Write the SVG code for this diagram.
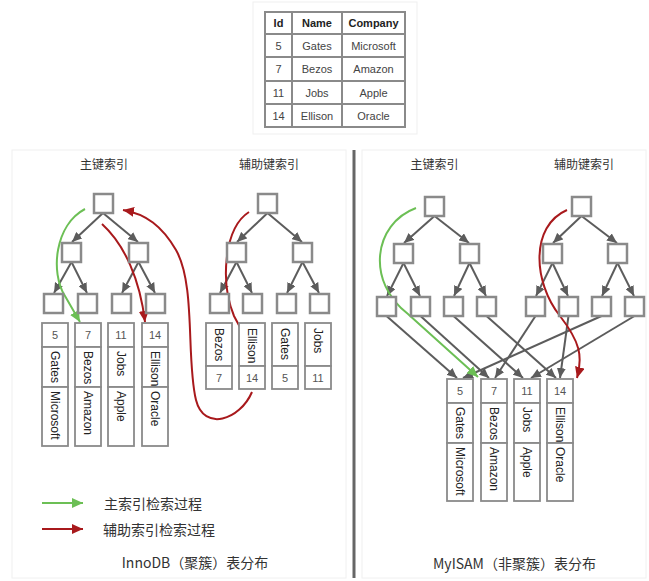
<svg xmlns="http://www.w3.org/2000/svg" width="649" height="581" viewBox="0 0 649 581">
<defs>
<style>
text{font-family:"Liberation Sans","Noto Sans CJK SC",sans-serif;fill:#333}
.cjk{font-family:"Noto Sans CJK SC","Liberation Sans",sans-serif}
.t{font-size:11px;text-anchor:middle;dominant-baseline:central;fill:#444}
.th{font-size:11px;font-weight:bold;text-anchor:middle;dominant-baseline:central;fill:#222}
.tl{stroke:#8a8a8a;stroke-width:2;fill:none}
.box{fill:#fff;stroke:#8a8a8a;stroke-width:2.5}
.col{fill:#fff;stroke:#8a8a8a;stroke-width:1.8}
.id{font-size:11px;text-anchor:middle;dominant-baseline:central;fill:#555}
.nm{font-size:12px;dominant-baseline:central;fill:#222}
.e{stroke:#5c5c5c;stroke-width:2;fill:none;marker-end:url(#ag)}
.g{stroke:#6cbf55;stroke-width:2;fill:none;marker-end:url(#agr)}
.r{stroke:#a8191c;stroke-width:2;fill:none;marker-end:url(#ar)}
.title{font-size:12px;text-anchor:middle;dominant-baseline:central;fill:#333}
.leg{font-size:14px;dominant-baseline:central;fill:#333}
.cap{font-size:14px;text-anchor:middle;dominant-baseline:central;fill:#333}
</style>
<marker id="ag" markerUnits="userSpaceOnUse" markerWidth="10" markerHeight="9" refX="10" refY="4.5" orient="auto"><path d="M0,0 L10,4.5 L0,9 z" fill="#5c5c5c"/></marker>
<marker id="agr" markerUnits="userSpaceOnUse" markerWidth="11" markerHeight="10" refX="11" refY="5" orient="auto"><path d="M0,0 L11,5 L0,10 z" fill="#6cbf55"/></marker>
<marker id="ar" markerUnits="userSpaceOnUse" markerWidth="11" markerHeight="10" refX="11" refY="5" orient="auto"><path d="M0,0 L11,5 L0,10 z" fill="#a8191c"/></marker>
</defs>
<rect width="649" height="581" fill="#fff"/>

<!-- panels -->
<g id="panels">
<rect x="12" y="150" width="334" height="428" fill="none" stroke="#f0f0f0" stroke-width="1"/>
<rect x="362" y="150" width="284" height="428" fill="none" stroke="#f0f0f0" stroke-width="1"/>
<line x1="354" y1="150" x2="354" y2="578" stroke="#666" stroke-width="3"/>
</g>

<!-- table -->
<g id="table">
<rect x="253" y="2" width="164" height="132" fill="#fff" stroke="#efefef"/>
<rect x="265" y="12" width="140" height="115" class="tl"/>
<line x1="292" y1="12" x2="292" y2="127" class="tl"/>
<line x1="342" y1="12" x2="342" y2="127" class="tl"/>
<line x1="265" y1="34" x2="405" y2="34" class="tl"/>
<line x1="265" y1="57" x2="405" y2="57" class="tl"/>
<line x1="265" y1="81" x2="405" y2="81" class="tl"/>
<line x1="265" y1="104" x2="405" y2="104" class="tl"/>
<text class="th" x="278.5" y="23">Id</text><text class="th" x="317" y="23">Name</text><text class="th" x="373.5" y="23">Company</text>
<text class="t" x="278.5" y="45.5">5</text><text class="t" x="317" y="45.5">Gates</text><text class="t" x="373.5" y="45.5">Microsoft</text>
<text class="t" x="278.5" y="69">7</text><text class="t" x="317" y="69">Bezos</text><text class="t" x="373.5" y="69">Amazon</text>
<text class="t" x="278.5" y="92.5">11</text><text class="t" x="317" y="92.5">Jobs</text><text class="t" x="373.5" y="92.5">Apple</text>
<text class="t" x="278.5" y="115.5">14</text><text class="t" x="317" y="115.5">Ellison</text><text class="t" x="373.5" y="115.5">Oracle</text>
</g>

<!-- titles -->
<g id="titles">
<text class="title cjk" x="104" y="163">主键索引</text>
<text class="title cjk" x="269" y="163">辅助键索引</text>
<text class="title cjk" x="434.5" y="163">主键索引</text>
<text class="title cjk" x="584" y="163">辅助键索引</text>
</g>

<!-- connectors -->
<g id="connectors">
<!-- left primary tree -->
<line class="e" x1="103" y1="213" x2="72" y2="242"/>
<line class="e" x1="103" y1="213" x2="138" y2="242"/>
<line class="e" x1="71.5" y1="262" x2="54" y2="293"/>
<line class="e" x1="71.5" y1="262" x2="87" y2="293"/>
<line class="e" x1="138.5" y1="262" x2="122" y2="293"/>
<line class="e" x1="138.5" y1="262" x2="155" y2="293"/>
<!-- left secondary tree -->
<line class="e" x1="267.5" y1="213" x2="237" y2="242"/>
<line class="e" x1="267.5" y1="213" x2="302" y2="242"/>
<line class="e" x1="236.5" y1="262" x2="220" y2="293"/>
<line class="e" x1="236.5" y1="262" x2="252" y2="293"/>
<line class="e" x1="302.5" y1="262" x2="287" y2="293"/>
<line class="e" x1="302.5" y1="262" x2="319" y2="293"/>
<!-- right primary tree -->
<line class="e" x1="434.5" y1="216" x2="404" y2="243"/>
<line class="e" x1="434.5" y1="216" x2="469" y2="243"/>
<line class="e" x1="403.5" y1="263" x2="387" y2="296"/>
<line class="e" x1="403.5" y1="263" x2="420" y2="296"/>
<line class="e" x1="469.5" y1="263" x2="454" y2="296"/>
<line class="e" x1="469.5" y1="263" x2="486" y2="296"/>
<!-- right secondary tree -->
<line class="e" x1="581.5" y1="216" x2="553" y2="243"/>
<line class="e" x1="581.5" y1="216" x2="617" y2="243"/>
<line class="e" x1="552.5" y1="263" x2="536" y2="296"/>
<line class="e" x1="552.5" y1="263" x2="568" y2="296"/>
<line class="e" x1="617.5" y1="263" x2="602" y2="296"/>
<line class="e" x1="617.5" y1="263" x2="634" y2="296"/>
<!-- leaf to rows (MyISAM) -->
<line class="e" x1="386.5" y1="316" x2="457" y2="378"/>
<line class="e" x1="420.5" y1="316" x2="489" y2="378"/>
<line class="e" x1="453.5" y1="316" x2="523" y2="378"/>
<line class="e" x1="486.5" y1="316" x2="556" y2="378"/>
<line class="e" x1="535.5" y1="316" x2="495" y2="378"/>
<line class="e" x1="568.5" y1="316" x2="560" y2="378"/>
<line class="e" x1="601.5" y1="316" x2="463" y2="378"/>
<line class="e" x1="634.5" y1="316" x2="531" y2="378"/>
<!-- search paths -->
<path class="g" d="M85,209 C55,225 50,272 65,296 L80,322"/>
<path class="r" d="M102,224 C125,245 140,280 145,322"/>
<path class="r" d="M249,212 C224,228 220,282 234,316 L248,342"/>
<path class="r" d="M252,392 C240,420 204,432 196,400 C186,360 196,285 176,250 C162,226 146,214 123,210"/>
<path class="g" d="M416,208 C373,224 366,282 408,314 L478,377"/>
<path class="r" d="M567,210 C530,226 533,282 560,316 C580,342 583,356 577,378"/>
<!-- legend -->
<line class="g" x1="42" y1="503" x2="83" y2="503"/>
<line class="r" x1="42" y1="529" x2="83" y2="529"/>
</g>

<!-- tree nodes -->
<g id="innodb-primary">
<rect class="box" x="94" y="194" width="19" height="19"/>
<rect class="box" x="62" y="243" width="19" height="19"/>
<rect class="box" x="129" y="243" width="19" height="19"/>
<rect class="box" x="44" y="294" width="19" height="19"/>
<rect class="box" x="78" y="294" width="19" height="19"/>
<rect class="box" x="112" y="294" width="19" height="19"/>
<rect class="box" x="146" y="294" width="19" height="19"/>
</g>
<g id="innodb-secondary">
<rect class="box" x="258" y="194" width="19" height="19"/>
<rect class="box" x="227" y="243" width="19" height="19"/>
<rect class="box" x="293" y="243" width="19" height="19"/>
<rect class="box" x="210" y="294" width="19" height="19"/>
<rect class="box" x="243" y="294" width="19" height="19"/>
<rect class="box" x="277" y="294" width="19" height="19"/>
<rect class="box" x="310" y="294" width="19" height="19"/>
</g>
<g id="myisam-primary">
<rect class="box" x="425" y="197" width="19" height="19"/>
<rect class="box" x="394" y="244" width="19" height="19"/>
<rect class="box" x="460" y="244" width="19" height="19"/>
<rect class="box" x="377" y="297" width="19" height="19"/>
<rect class="box" x="411" y="297" width="19" height="19"/>
<rect class="box" x="444" y="297" width="19" height="19"/>
<rect class="box" x="477" y="297" width="19" height="19"/>
</g>
<g id="myisam-secondary">
<rect class="box" x="572" y="197" width="19" height="19"/>
<rect class="box" x="543" y="244" width="19" height="19"/>
<rect class="box" x="608" y="244" width="19" height="19"/>
<rect class="box" x="526" y="297" width="19" height="19"/>
<rect class="box" x="559" y="297" width="19" height="19"/>
<rect class="box" x="592" y="297" width="19" height="19"/>
<rect class="box" x="625" y="297" width="19" height="19"/>
</g>

<!-- InnoDB clustered rows -->
<g id="innodb-rows">
<rect class="col" x="42" y="323" width="26" height="24"/><rect class="col" x="42" y="347" width="26" height="40"/><rect class="col" x="42" y="387" width="26" height="59"/>
<rect class="col" x="75" y="323" width="26" height="24"/><rect class="col" x="75" y="347" width="26" height="40"/><rect class="col" x="75" y="387" width="26" height="59"/>
<rect class="col" x="108" y="323" width="26" height="24"/><rect class="col" x="108" y="347" width="26" height="40"/><rect class="col" x="108" y="387" width="26" height="59"/>
<rect class="col" x="142" y="323" width="26" height="24"/><rect class="col" x="142" y="347" width="26" height="40"/><rect class="col" x="142" y="387" width="26" height="59"/>
<text class="id" x="55" y="335">5</text><text class="id" x="88" y="335">7</text><text class="id" x="121" y="335">11</text><text class="id" x="155" y="335">14</text>
<text class="nm" transform="translate(55,351) rotate(90)">Gates</text>
<text class="nm" transform="translate(55,391) rotate(90)">Microsoft</text>
<text class="nm" transform="translate(88,351) rotate(90)">Bezos</text>
<text class="nm" transform="translate(88,391) rotate(90)">Amazon</text>
<text class="nm" transform="translate(121,351) rotate(90)">Jobs</text>
<text class="nm" transform="translate(121,391) rotate(90)">Apple</text>
<text class="nm" transform="translate(155,351) rotate(90)">Ellison</text>
<text class="nm" transform="translate(155,391) rotate(90)">Oracle</text>
</g>

<!-- InnoDB secondary leaf rows -->
<g id="innodb-sec-rows">
<rect class="col" x="206" y="323" width="26" height="43"/><rect class="col" x="206" y="366" width="26" height="23"/>
<rect class="col" x="239" y="323" width="26" height="43"/><rect class="col" x="239" y="366" width="26" height="23"/>
<rect class="col" x="272" y="323" width="26" height="43"/><rect class="col" x="272" y="366" width="26" height="23"/>
<rect class="col" x="305" y="323" width="26" height="43"/><rect class="col" x="305" y="366" width="26" height="23"/>
<text class="nm" transform="translate(219,328) rotate(90)">Bezos</text>
<text class="nm" transform="translate(252,328) rotate(90)">Ellison</text>
<text class="nm" transform="translate(285,328) rotate(90)">Gates</text>
<text class="nm" transform="translate(318,328) rotate(90)">Jobs</text>
<text class="id" x="219" y="377.5">7</text><text class="id" x="252" y="377.5">14</text><text class="id" x="285" y="377.5">5</text><text class="id" x="318" y="377.5">11</text>
</g>

<!-- MyISAM heap rows -->
<g id="myisam-rows">
<rect class="col" x="447" y="379" width="26" height="24"/><rect class="col" x="447" y="403" width="26" height="40"/><rect class="col" x="447" y="443" width="26" height="58"/>
<rect class="col" x="481" y="379" width="26" height="24"/><rect class="col" x="481" y="403" width="26" height="40"/><rect class="col" x="481" y="443" width="26" height="58"/>
<rect class="col" x="514" y="379" width="26" height="24"/><rect class="col" x="514" y="403" width="26" height="40"/><rect class="col" x="514" y="443" width="26" height="58"/>
<rect class="col" x="547" y="379" width="26" height="24"/><rect class="col" x="547" y="403" width="26" height="40"/><rect class="col" x="547" y="443" width="26" height="58"/>
<text class="id" x="460" y="391">5</text><text class="id" x="494" y="391">7</text><text class="id" x="527" y="391">11</text><text class="id" x="560" y="391">14</text>
<text class="nm" transform="translate(460,407) rotate(90)">Gates</text>
<text class="nm" transform="translate(460,447) rotate(90)">Microsoft</text>
<text class="nm" transform="translate(494,407) rotate(90)">Bezos</text>
<text class="nm" transform="translate(494,447) rotate(90)">Amazon</text>
<text class="nm" transform="translate(527,407) rotate(90)">Jobs</text>
<text class="nm" transform="translate(527,447) rotate(90)">Apple</text>
<text class="nm" transform="translate(560,407) rotate(90)">Ellison</text>
<text class="nm" transform="translate(560,447) rotate(90)">Oracle</text>
</g>

<!-- legend and captions -->
<g id="legend">
<text class="leg cjk" x="104" y="503">主索引检索过程</text>
<text class="leg cjk" x="103" y="529">辅助索引检索过程</text>
</g>
<g id="captions">
<text class="cap cjk" x="195" y="562">InnoDB（聚簇）表分布</text>
<text class="cap cjk" x="514.5" y="563">MyISAM（非聚簇）表分布</text>
</g>
</svg>
